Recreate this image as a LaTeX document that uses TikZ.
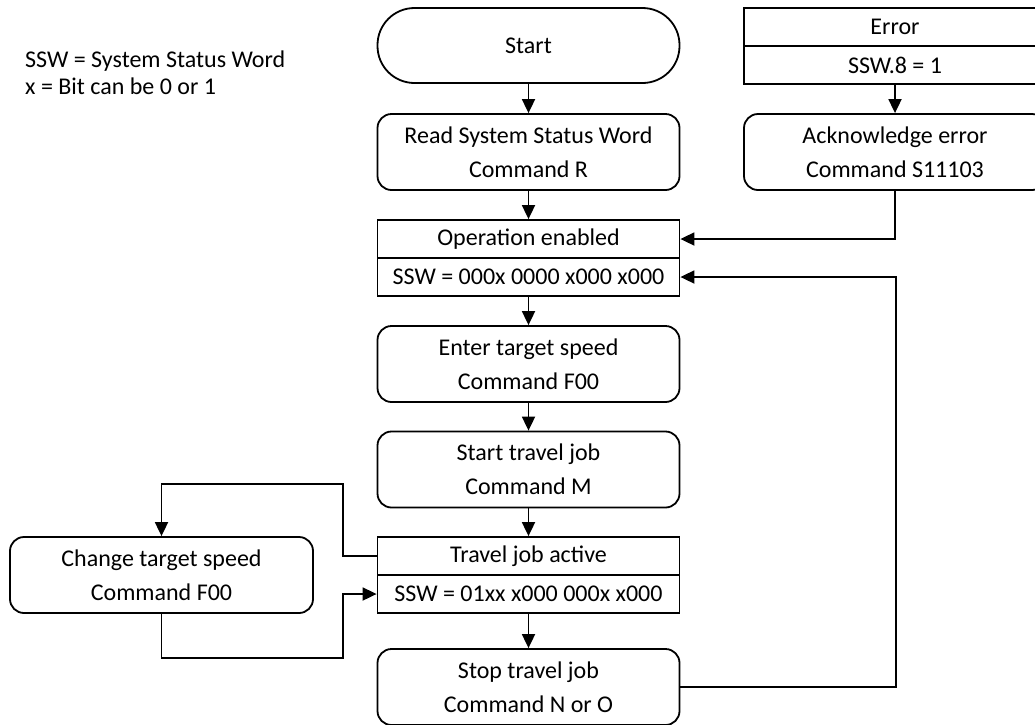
\documentclass[tikz,border=0pt]{standalone}
\usepackage{fontspec}
\setmainfont{Carlito}
\usetikzlibrary{arrows.meta,positioning}

\tikzset{
  stepbox/.style={draw,rounded corners=14pt,minimum width=302pt,minimum height=76pt,align=center,inner sep=0pt},
  termbox/.style={draw,rounded corners=37pt,minimum width=302pt,minimum height=75pt,inner sep=0pt},
  statebox/.style={draw,minimum width=302pt,minimum height=38pt,inner sep=0pt},
  flow/.style={-{Triangle[length=14pt,width=13pt]}}
}

\begin{document}
\begin{tikzpicture}[x=1pt,y=-1pt,line width=1.8pt,font=\fontsize{24}{34}\selectfont]
  \useasboundingbox (0,0) rectangle (1035,724);
  % legend
  \node[anchor=west,align=left,font=\fontsize{24}{27}\selectfont] (legend) at (21,73) {SSW = System Status Word\\x = Bit can be 0 or 1};
  % main column
  \node[termbox] (start) at (528.5,45.5) {Start};
  \node[stepbox] (read) at (528.5,152) {Read System Status Word\\Command R};
  \node[statebox] (opTop) at (528.5,239) {Operation enabled};
  \node[statebox] (opBot) at (528.5,277) {SSW = 000x 0000 x000 x000};
  \node[stepbox] (enter) at (528.5,364) {Enter target speed\\Command F00};
  \node[stepbox] (travel) at (528.5,469.5) {Start travel job\\Command M};
  \node[statebox] (actTop) at (528.5,556) {Travel job active};
  \node[statebox] (actBot) at (528.5,594) {SSW = 01xx x000 000x x000};
  \node[stepbox] (stop) at (528.5,687) {Stop travel job\\Command N or O};
  % error branch
  \node[statebox] (errTop) at (895,27) {Error};
  \node[statebox] (errBot) at (895,65) {SSW.8 = 1};
  \node[stepbox] (ack) at (895,152) {Acknowledge error\\Command S11103};
  % side loop
  \node[stepbox,minimum width=303pt] (change) at (161.5,575) {Change target speed\\Command F00};
  \coordinate (rail) at (896,400);
  \coordinate (loopTop) at (343,484);
  \coordinate (loopBot) at (343,658);

  \draw[flow] (start) -- (read);
  \draw[flow] (read) -- (opTop);
  \draw[flow] (opBot) -- (enter);
  \draw[flow] (enter) -- (travel);
  \draw[flow] (travel) -- (actTop);
  \draw[flow] (actBot) -- (stop);
  \draw[flow] (errBot) -- (ack);
  \draw[flow] (ack.south) |- (opTop.east);
  \draw[flow] (stop.east) -| (rail) |- (opBot.east);
  \draw[flow] (actTop.west) -| (loopTop) -| (change.north);
  \draw[flow] (change.south) |- (loopBot) |- (actBot.west);
\end{tikzpicture}
\end{document}
